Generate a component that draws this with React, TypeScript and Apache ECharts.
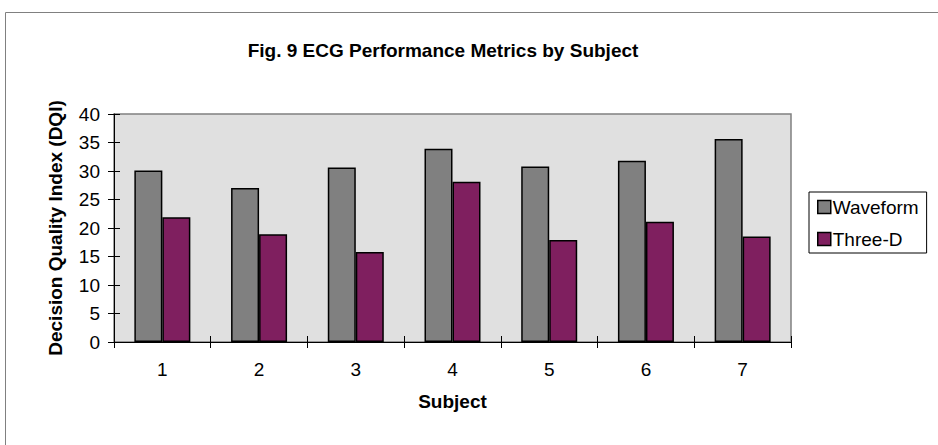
import React, { useEffect, useRef } from "react";
import * as echarts from "echarts";

const categories = ["1", "2", "3", "4", "5", "6", "7"];
const waveform = [30.1, 27.0, 30.6, 33.9, 30.8, 31.8, 35.6];
const threeD = [21.9, 18.9, 15.8, 28.1, 17.9, 21.1, 18.5];
const seriesNames = ["Waveform", "Three-D"];

const FONT = "Liberation Sans, Arial, sans-serif";

export default function App() {
  const ref = useRef<HTMLDivElement>(null);
  useEffect(() => {
    if (!ref.current) return;
    const chart = echarts.init(ref.current, null, { renderer: "svg" });
    const grid = { left: 114, top: 114, width: 677, height: 228 };
    chart.setOption({
      animation: false,
      backgroundColor: "#ffffff",
      textStyle: { fontFamily: FONT, color: "#000" },
      title: {
        text: "Fig. 9 ECG Performance Metrics by Subject",
        left: 438,
        textAlign: "center",
        top: 36,
        textStyle: { fontFamily: FONT, fontSize: 19, fontWeight: "bold", color: "#000" },
      },
      graphic: [
        {
          type: "rect",
          shape: { x: 5.5, y: 12.5, width: 940, height: 440 },
          style: { fill: "none", stroke: "#808080", lineWidth: 1 },
          silent: true,
          z: -1,
        },
        {
          type: "rect",
          shape: { x: grid.left, y: grid.top, width: grid.width, height: grid.height },
          style: { fill: "#e0e0e0", stroke: "#808080", lineWidth: 1.5 },
          silent: true,
          z: -1,
        },
      ],
      legend: {
        orient: "vertical",
        left: 809,
        top: 192,
        data: seriesNames,
        itemWidth: 13,
        itemHeight: 13,
        itemGap: 12,
        padding: [5, 8, 4, 8],
        borderColor: "#000",
        borderWidth: 1,
        backgroundColor: "#fff",
        icon: "rect",
        textStyle: {
          fontFamily: FONT,
          fontSize: 19,
          lineHeight: 20,
          color: "#000",
          padding: [0, 0, 0, -3],
        },
        itemStyle: { borderColor: "#000", borderWidth: 1.5 },
      },
      grid: [grid],
      xAxis: [
        {
          type: "category",
          data: categories,
          name: "Subject",
          nameLocation: "middle",
          nameGap: 50,
          nameTextStyle: { fontFamily: FONT, fontSize: 19, fontWeight: "bold", color: "#000" },
          axisLine: { lineStyle: { color: "#000", width: 1 } },
          axisTick: { show: true, length: 6, inside: false, lineStyle: { color: "#000" } },
          axisLabel: { fontFamily: FONT, fontSize: 19, color: "#000", margin: 18 },
          splitLine: { show: false },
        },
        {
          type: "category",
          data: categories,
          position: "bottom",
          axisLine: { show: false },
          axisTick: { show: true, length: 6, inside: true, lineStyle: { color: "#000" } },
          axisLabel: { show: false },
          splitLine: { show: false },
        },
      ],
      yAxis: [
        {
          type: "value",
          min: 0,
          max: 40,
          interval: 5,
          name: "Decision Quality Index (DQI)",
          nameLocation: "middle",
          nameGap: 49,
          nameRotate: 90,
          nameTextStyle: { fontFamily: FONT, fontSize: 19, fontWeight: "bold", color: "#000" },
          axisLine: { show: true, lineStyle: { color: "#000", width: 1 } },
          axisTick: { show: true, length: 6, inside: false, lineStyle: { color: "#000" } },
          axisLabel: { fontFamily: FONT, fontSize: 19, color: "#000", margin: 14 },
          splitLine: { show: false },
        },
        {
          type: "value",
          min: 0,
          max: 40,
          interval: 5,
          position: "left",
          axisLine: { show: false },
          axisTick: { show: true, length: 6, inside: true, lineStyle: { color: "#000" } },
          axisLabel: { show: false },
          splitLine: { show: false },
        },
      ],
      series: [
        {
          name: seriesNames[0],
          type: "bar",
          data: waveform,
          barWidth: 28,
          barGap: "0%",
          itemStyle: { color: "#808080", borderColor: "#000", borderWidth: 1.5 },
        },
        {
          name: seriesNames[1],
          type: "bar",
          data: threeD,
          barWidth: 28,
          barGap: "0%",
          itemStyle: { color: "#7f1f5f", borderColor: "#000", borderWidth: 1.5 },
        },
      ],
    });
    return () => chart.dispose();
  }, []);
  return (
    <div
      ref={ref}
      style={{ position: "fixed", left: 0, top: 0, width: 938, height: 445 }}
    />
  );
}
